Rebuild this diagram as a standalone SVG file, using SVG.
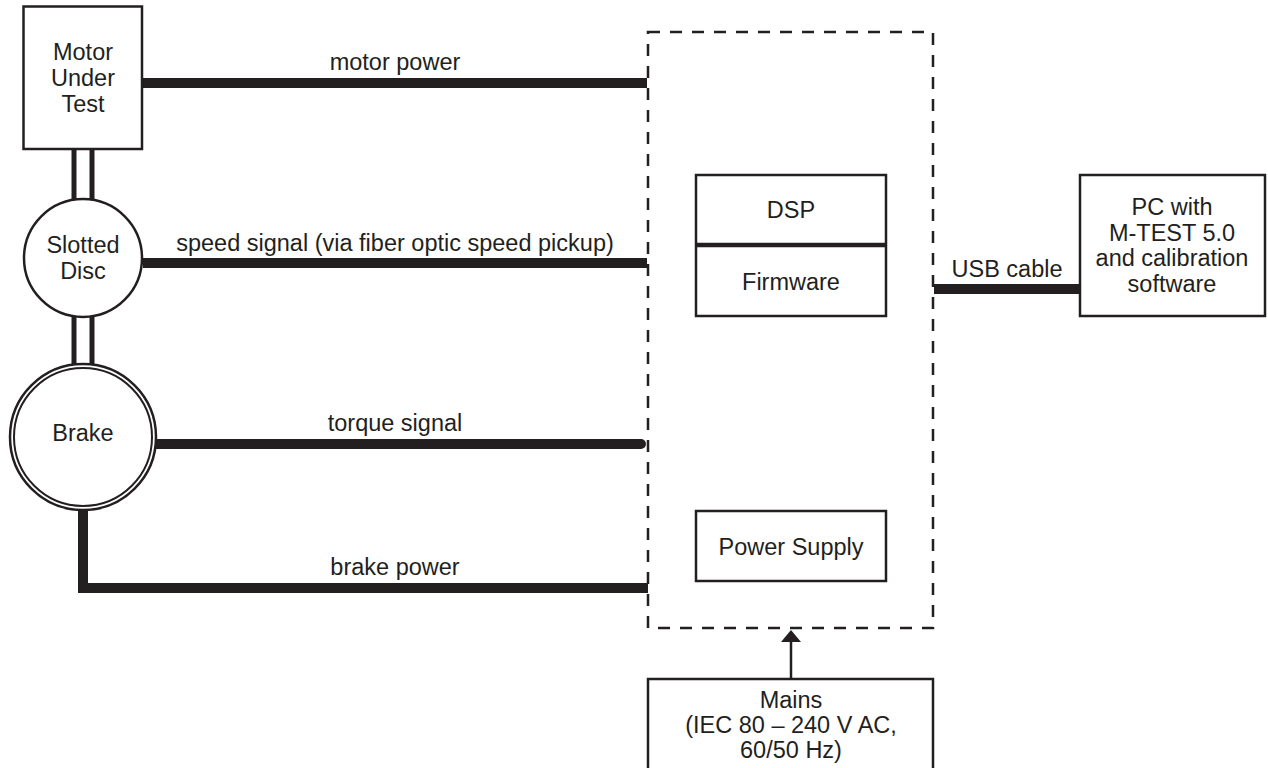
<svg xmlns="http://www.w3.org/2000/svg" width="1268" height="768" viewBox="0 0 1268 768">
  <style>
    text { font-family: "Liberation Sans", Arial, sans-serif; font-size: 23.5px; fill: #231f20; text-anchor: middle; }
    .box { fill: #ffffff; stroke: #231f20; stroke-width: 2.5; }
    .thick { fill: none; stroke: #231f20; stroke-width: 10; }
    .shaft { fill: none; stroke: #231f20; stroke-width: 5; }
    .dash { fill: none; stroke: #231f20; stroke-width: 2.5; stroke-dasharray: 12 10; }
  </style>
  <rect width="1268" height="768" fill="#ffffff"/>

  <g id="connectors">
    <line class="shaft" x1="74" y1="149" x2="74" y2="200"/>
    <line class="shaft" x1="92" y1="149" x2="92" y2="200"/>
    <line class="shaft" x1="74" y1="316" x2="74" y2="366"/>
    <line class="shaft" x1="92" y1="316" x2="92" y2="366"/>
    <line class="thick" x1="142" y1="83" x2="647" y2="83"/>
    <line class="thick" x1="143" y1="263" x2="647" y2="263"/>
    <line class="thick" x1="156" y1="444" x2="641" y2="444" stroke-linecap="round"/>
    <polyline class="thick" points="83,510 83,588 648,588" stroke-linejoin="miter"/>
    <line class="thick" x1="934" y1="289" x2="1080" y2="289"/>
    <line x1="791" y1="679" x2="791" y2="640" stroke="#231f20" stroke-width="2.5"/>
    <polygon points="791,630 781,642 801,642" fill="#231f20"/>
    <text x="395" y="70">motor power</text>
    <text x="395" y="251">speed signal (via fiber optic speed pickup)</text>
    <text x="395" y="431">torque signal</text>
    <text x="395" y="575">brake power</text>
    <text x="1007" y="277">USB cable</text>
  </g>

  <g id="motor">
    <rect class="box" x="23.5" y="6.5" width="118.5" height="142.5"/>
    <text x="83" y="60">Motor</text>
    <text x="83" y="86">Under</text>
    <text x="83" y="112">Test</text>
  </g>

  <g id="disc">
    <circle class="box" cx="83" cy="258" r="59"/>
    <text x="83" y="253">Slotted</text>
    <text x="83" y="279">Disc</text>
  </g>

  <g id="brake">
    <circle class="box" cx="83" cy="437" r="73" stroke-width="2"/>
    <circle fill="none" stroke="#231f20" stroke-width="2" cx="83" cy="437" r="69"/>
    <text x="83" y="441">Brake</text>
  </g>

  <g id="controller">
    <rect class="dash" x="648" y="32" width="285" height="596"/>
  </g>

  <g id="dsp">
    <rect class="box" x="696" y="175" width="190" height="141"/>
    <line x1="696" y1="245" x2="886" y2="245" stroke="#231f20" stroke-width="4.5"/>
    <text x="791" y="218">DSP</text>
    <text x="791" y="290">Firmware</text>
  </g>

  <g id="power-supply">
    <rect class="box" x="696" y="511" width="190" height="70"/>
    <text x="791" y="555">Power Supply</text>
  </g>

  <g id="pc">
    <rect class="box" x="1080" y="175" width="185" height="141"/>
    <text x="1172" y="215">PC with</text>
    <text x="1172" y="241">M-TEST 5.0</text>
    <text x="1172" y="266">and calibration</text>
    <text x="1172" y="292">software</text>
  </g>

  <g id="mains">
    <rect class="box" x="648" y="679" width="285" height="100"/>
    <text x="791" y="708">Mains</text>
    <text x="791" y="733">(IEC 80 – 240 V AC,</text>
    <text x="791" y="758">60/50 Hz)</text>
  </g>
</svg>
